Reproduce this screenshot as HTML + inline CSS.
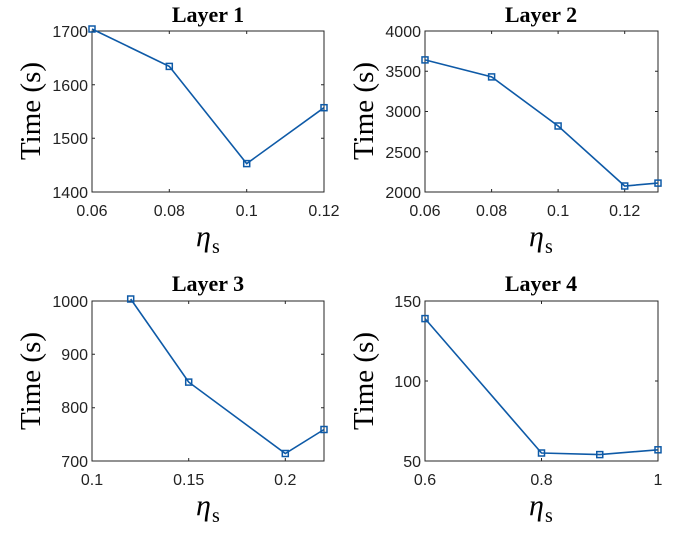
<!DOCTYPE html>
<html><head><style>body{margin:0;background:#fff}</style></head><body>
<svg width="699" height="534" viewBox="0 0 699 534" xmlns="http://www.w3.org/2000/svg" font-family="Liberation Sans, sans-serif">
<g fill="none" stroke="#262626" stroke-width="1">
<rect x="92" y="31" width="232" height="161"/>
<rect x="425" y="31" width="233" height="161"/>
<rect x="92" y="301" width="232" height="160"/>
<rect x="425" y="301" width="233" height="160"/>
<path d="M169.3,192v-3M246.7,192v-3M169.3,31v3M246.7,31v3M92,138.3h3M92,84.7h3M324,138.3h-3M324,84.7h-3"/>
<path d="M491.6,192v-3M558.1,192v-3M624.7,192v-3M491.6,31v3M558.1,31v3M624.7,31v3M425,151.75h3M425,111.5h3M425,71.25h3M658,151.75h-3M658,111.5h-3M658,71.25h-3"/>
<path d="M188.7,461v-3M285.3,461v-3M188.7,301v3M285.3,301v3M92,407.7h3M92,354.3h3M324,407.7h-3M324,354.3h-3"/>
<path d="M541.5,461v-3M541.5,301v3M425,381h3M658,381h-3"/>
</g>
<g fill="none" stroke="#0e5aa7" stroke-width="1.6">
<polyline points="92,29 169.3,66.4 246.7,163.6 324,107.7"/>
<polyline points="425,59.9 491.6,76.9 558.1,126 624.7,186 658,183.1"/>
<polyline points="130.7,299 188.7,382.1 285.3,453.5 324,429.5"/>
<polyline points="425,318.6 541.5,453 599.75,454.6 658,449.8"/>
</g>
<g fill="none" stroke="#0e5aa7" stroke-width="1.5">
<rect x="89" y="26" width="6" height="6"/><rect x="166.3" y="63.4" width="6" height="6"/><rect x="243.7" y="160.6" width="6" height="6"/><rect x="321" y="104.7" width="6" height="6"/>
<rect x="422" y="56.9" width="6" height="6"/><rect x="488.6" y="73.9" width="6" height="6"/><rect x="555.1" y="123" width="6" height="6"/><rect x="621.7" y="183" width="6" height="6"/><rect x="655" y="180.1" width="6" height="6"/>
<rect x="127.7" y="296" width="6" height="6"/><rect x="185.7" y="379.1" width="6" height="6"/><rect x="282.3" y="450.5" width="6" height="6"/><rect x="321" y="426.5" width="6" height="6"/>
<rect x="422" y="315.6" width="6" height="6"/><rect x="538.5" y="450" width="6" height="6"/><rect x="596.75" y="451.6" width="6" height="6"/><rect x="655" y="446.8" width="6" height="6"/>
</g>
<g font-size="16" fill="#222" text-anchor="middle">
<text x="92" y="216">0.06</text><text x="169.3" y="216">0.08</text><text x="246.7" y="216">0.1</text><text x="324" y="216">0.12</text>
<text x="425" y="216">0.06</text><text x="491.6" y="216">0.08</text><text x="558.1" y="216">0.1</text><text x="624.7" y="216">0.12</text>
<text x="92" y="485">0.1</text><text x="188.7" y="485">0.15</text><text x="285.3" y="485">0.2</text>
<text x="425" y="485">0.6</text><text x="541.5" y="485">0.8</text><text x="658" y="485">1</text>
</g>
<g font-size="16" fill="#222" text-anchor="end">
<text x="88" y="198">1400</text><text x="88" y="144">1500</text><text x="88" y="91">1600</text><text x="88" y="37">1700</text>
<text x="421" y="198">2000</text><text x="421" y="158">2500</text><text x="421" y="117">3000</text><text x="421" y="77">3500</text><text x="421" y="37">4000</text>
<text x="88" y="467">700</text><text x="88" y="413">800</text><text x="88" y="360">900</text><text x="88" y="307">1000</text>
<text x="421" y="467">50</text><text x="421" y="387">100</text><text x="421" y="307">150</text>
</g>
<g font-family="Liberation Serif, serif" font-weight="bold" font-size="22" fill="#000" text-anchor="middle">
<text x="208" y="22">Layer 1</text><text x="541" y="22">Layer 2</text><text x="208" y="291">Layer 3</text><text x="541" y="291">Layer 4</text>
</g>
<g font-family="Liberation Serif, serif" font-size="29" fill="#000" text-anchor="middle">
<text transform="translate(40,111) rotate(-90)">Time (s)</text>
<text transform="translate(373,111) rotate(-90)">Time (s)</text>
<text transform="translate(40,381) rotate(-90)">Time (s)</text>
<text transform="translate(373,381) rotate(-90)">Time (s)</text>
</g>
<g font-family="Liberation Serif, serif" fill="#000">
<text x="196" y="246" font-size="30" font-style="italic">η</text><text x="212" y="253" font-size="20">s</text>
<text x="529" y="246" font-size="30" font-style="italic">η</text><text x="545" y="253" font-size="20">s</text>
<text x="196" y="515" font-size="30" font-style="italic">η</text><text x="212" y="522" font-size="20">s</text>
<text x="529" y="515" font-size="30" font-style="italic">η</text><text x="545" y="522" font-size="20">s</text>
</g>
</svg>
</body></html>
